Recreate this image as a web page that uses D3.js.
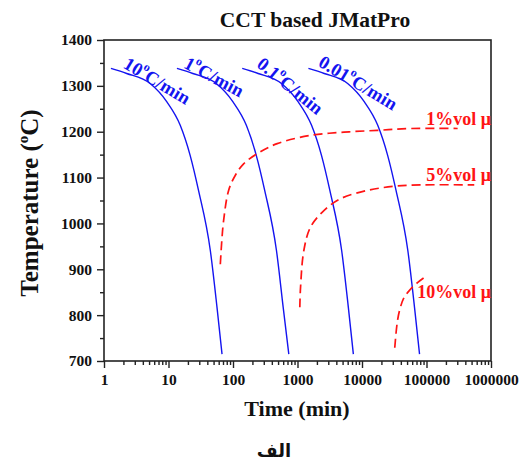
<!DOCTYPE html>
<html><head><meta charset="utf-8">
<script src="https://cdn.jsdelivr.net/npm/d3@7"></script>
<style>body{margin:0;background:#fff}svg{display:block}</style>
</head><body>
<script>
// ---- data ----
const rateLabels = ["10", "1", "0.1", "0.01"];
const cool10_t   = [1.28, 2.25, 5.19, 9.44, 15.2, 21.7, 29.2, 44.5, 56.5, 67.6];
const cool10_T   = [1338, 1327, 1305, 1265, 1214, 1148, 1072, 941, 817, 715];
const cool1_t    = [13.5, 23.8, 55, 100, 161, 230, 310, 472, 600, 733];
const cool1_T    = [1338, 1327, 1305, 1265, 1214, 1148, 1072, 941, 817, 715];
const cool01_t   = [139, 245, 564, 1026, 1652, 2360, 3174, 4837, 6141, 7345];
const cool01_T   = [1338, 1327, 1305, 1265, 1214, 1148, 1072, 941, 817, 715];
const cool001_t  = [1477, 2597, 5990, 10900, 17540, 25040, 33700, 51350, 65200, 78000];
const cool001_T  = [1338, 1327, 1305, 1265, 1214, 1148, 1072, 941, 817, 715];

const phaseLabels = ["1%vol \u03bc", "5%vol \u03bc", "10%vol \u03bc"];
const p1_t  = [63.6, 67, 71.5, 85.5, 108.8, 146, 236, 484, 1592, 5250, 17340, 57100, 304000];
const p1_T  = [911, 962, 1006, 1072, 1105, 1130, 1152, 1174, 1192, 1199, 1203, 1207, 1207];
const p5_t  = [1086, 1114, 1254, 1592, 2566, 4667, 12130, 31400, 81700, 550000];
const p5_T  = [817, 860, 941, 992, 1028, 1054, 1072, 1081, 1084, 1084];
const p10_t = [32200, 35500, 39200, 44400, 53700, 72600, 91900];
const p10_T = [729, 788, 816, 837, 853, 871, 882];

const yTicks = [700, 800, 900, 1000, 1100, 1200, 1300, 1400];
const xTicks = [1, 10, 100, 1000, 10000, 100000, 1000000];
const xTickLabels = ["1", "10", "100", "1000", "10000", "100000", "1000000"];

// ---- layout ----
const W = 529, H = 466;
const L = 104, R = 491, T = 40, B = 361;
const svg = d3.select("body").append("svg").attr("width", W).attr("height", H);
const x = d3.scaleLog().domain([1, 1e6]).range([L, R]);
const y = d3.scaleLinear().domain([700, 1400]).range([B, T]);
const serif = "'Liberation Serif','Times New Roman',serif";

// curves
const blue = "#1414f0", red = "#ff1414";
const coolSets = [[cool10_t, cool10_T], [cool1_t, cool1_T], [cool01_t, cool01_T], [cool001_t, cool001_T]];
const lineGen = d3.line().x(d => x(d[0])).y(d => y(d[1])).curve(d3.curveMonotoneX);
coolSets.forEach(([ts, Ts]) => {
  svg.append("path").datum(ts.map((t, i) => [t, Ts[i]]))
    .attr("d", lineGen).attr("fill", "none").attr("stroke", blue).attr("stroke-width", 1.4);
});
const redGen = d3.line().x(d => x(d[0])).y(d => y(d[1])).curve(d3.curveCatmullRom);
[[p1_t, p1_T], [p5_t, p5_T], [p10_t, p10_T]].forEach(([ts, Ts]) => {
  svg.append("path").datum(ts.map((t, i) => [t, Ts[i]]))
    .attr("d", redGen).attr("fill", "none").attr("stroke", red).attr("stroke-width", 1.7)
    .attr("stroke-dasharray", "9,5");
});

// frame
svg.append("rect").attr("x", L).attr("y", T).attr("width", R - L).attr("height", B - T)
  .attr("fill", "none").attr("stroke", "#222").attr("stroke-width", 1.6);

// y axis
const yAx = svg.append("g").attr("transform", `translate(${L},0)`)
  .call(d3.axisLeft(y).tickValues(yTicks).tickSize(7).tickPadding(5).tickFormat(d3.format("d")));
const yMin = svg.append("g").attr("transform", `translate(${L},0)`)
  .call(d3.axisLeft(y).tickValues(yTicks.slice(0, -1).map(v => v + 50)).tickSize(4).tickFormat(""));
// x axis
const xAx = svg.append("g").attr("transform", `translate(0,${B})`)
  .call(d3.axisBottom(x).tickValues(xTicks).tickSize(7).tickPadding(6).tickFormat((d, i) => xTickLabels[i]));
const minorX = [];
xTicks.slice(0, -1).forEach(d => { for (let k = 2; k <= 9; k++) minorX.push(d * k); });
const xMin = svg.append("g").attr("transform", `translate(0,${B})`)
  .call(d3.axisBottom(x).tickValues(minorX).tickSize(4).tickFormat(""));
[yAx, yMin, xAx, xMin].forEach(g => {
  g.select(".domain").remove();
  g.selectAll("line").attr("stroke", "#222").attr("stroke-width", 1.4);
  g.selectAll("text").attr("font-family", serif).attr("font-weight", "bold")
    .attr("font-size", 15.5).attr("fill", "#111");
});

// title & axis titles
svg.append("text").attr("x", 315).attr("y", 27).attr("text-anchor", "middle")
  .attr("font-family", serif).attr("font-weight", "bold").attr("font-size", 21.5).attr("fill", "#111")
  .text("CCT based JMatPro");
svg.append("text").attr("x", 297).attr("y", 416).attr("text-anchor", "middle")
  .attr("font-family", serif).attr("font-weight", "bold").attr("font-size", 22).attr("fill", "#111")
  .text("Time (min)");
const yt = svg.append("text").attr("transform", "translate(38,203) rotate(-90)").attr("text-anchor", "middle")
  .attr("font-family", serif).attr("font-weight", "bold").attr("font-size", 25).attr("fill", "#111");
yt.append("tspan").text("Temperature (");
yt.append("tspan").attr("font-size", 15).attr("dy", -10).text("o");
yt.append("tspan").attr("dy", 10).text("C)");

// rate labels
const rateLabelPos = [[157, 81, 31], [214, 77, 28], [290, 86, 39], [358, 83, 31]];
rateLabels.forEach((lab, i) => {
  const [cx, cy, a] = rateLabelPos[i];
  const t = svg.append("text").attr("transform", `translate(${cx},${cy}) rotate(${a})`)
    .attr("text-anchor", "middle").attr("dominant-baseline", "central")
    .attr("font-family", serif).attr("font-weight", "bold").attr("font-size", 18.5).attr("fill", blue);
  t.append("tspan").text(lab);
  t.append("tspan").attr("font-size", 12).attr("dy", -7).text("o");
  t.append("tspan").attr("dy", 7).text("C/min");
});
// phase labels
const phaseLabelPos = [[491, 125], [491, 181], [491, 298]];
phaseLabels.forEach((lab, i) => {
  svg.append("text").attr("x", phaseLabelPos[i][0]).attr("y", phaseLabelPos[i][1])
    .attr("text-anchor", "end").attr("font-family", serif).attr("font-weight", "bold")
    .attr("font-size", 18).attr("fill", red).text(lab);
});
// caption
svg.append("text").attr("x", 274).attr("y", 457).attr("text-anchor", "middle")
  .attr("font-family", "'DejaVu Sans',sans-serif").attr("font-weight", "bold").attr("font-size", 18)
  .attr("fill", "#111").text("الف");
</script>
</body></html>
